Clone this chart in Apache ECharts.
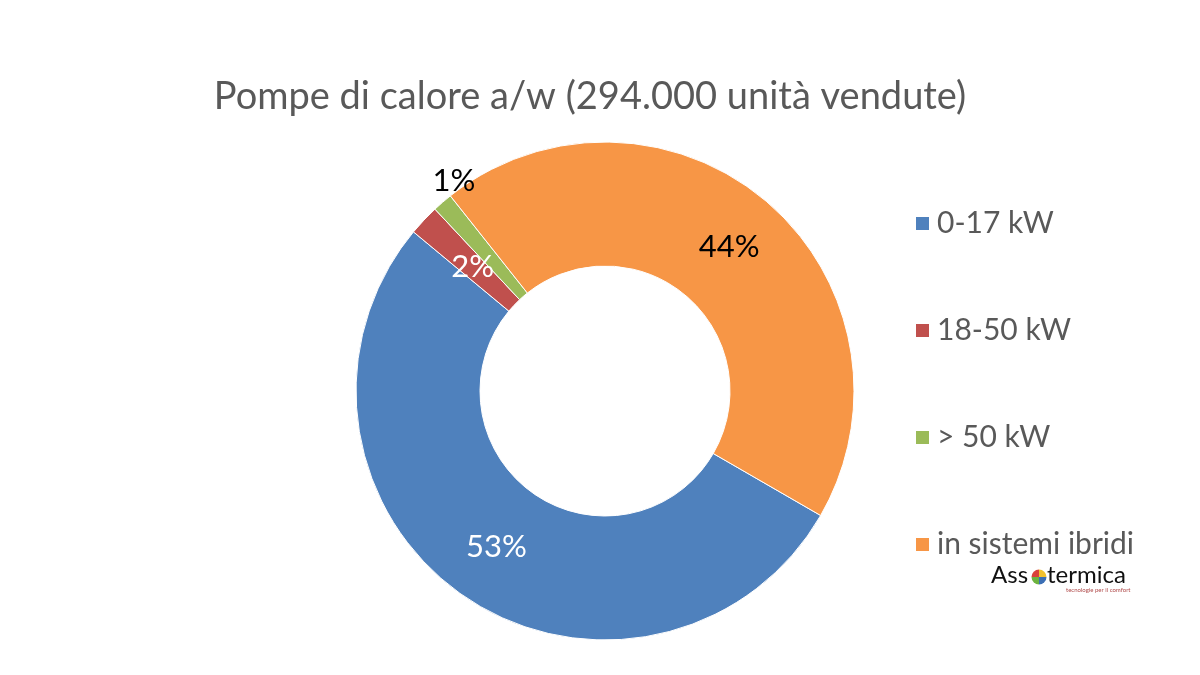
<!DOCTYPE html>
<html>
<head>
<meta charset="utf-8">
<script src="https://cdn.jsdelivr.net/npm/echarts@6/dist/echarts.min.js"></script>
<style>
html,body{margin:0;padding:0;background:#fff;}
#chart{width:1200px;height:675px;}
</style>
</head>
<body>
<div id="chart"></div>
<script>
const titleText = 'Pompe di calore a/w (294.000 unità vendute)';
const categories = ['0-17 kW', '18-50 kW', '> 50 kW', 'in sistemi ibridi'];
const shares = [52.7, 2.0, 1.3, 44.0];
const colors = ['#4F81BD', '#C0504D', '#9BBB59', '#F79646'];
const labelColors = ['#ffffff', '#ffffff', '#000000', '#000000'];

const FONT = 'Lato, "Open Sans", sans-serif';
const chart = echarts.init(document.getElementById('chart'));

const data = categories.map((c, i) => {
  const d = {
    name: c,
    value: shares[i],
    itemStyle: { color: colors[i] },
    label: { color: labelColors[i] }
  };
  if (i === 1) {
    d.label.offset = [6, 6];
  }
  if (i === 2) {
    d.label.offset = [-27, -66];
  }
  return d;
});

chart.setOption({
  backgroundColor: '#ffffff',
  animation: false,
  title: {
    text: titleText,
    left: 585,
    textAlign: 'center',
    top: 73,
    textStyle: { fontFamily: FONT, fontSize: 38, fontWeight: 'normal', color: '#595959' }
  },
  legend: {
    orient: 'vertical',
    left: 909,
    top: 202,
    itemWidth: 15,
    itemHeight: 15,
    itemGap: 74,
    icon: 'rect',
    data: categories,
    textStyle: { fontFamily: FONT, fontSize: 30, color: '#595959', lineHeight: 33, padding: [0, 0, 0, 2] }
  },
  series: [{
    type: 'pie',
    center: [605, 391],
    radius: [125, 249],
    startAngle: -30,
    clockwise: true,
    percentPrecision: 0,
    avoidLabelOverlap: false,
    itemStyle: { borderColor: '#ffffff', borderWidth: 1 },
    label: {
      show: true,
      position: 'inside',
      formatter: '{d}%',
      fontFamily: FONT,
      fontSize: 31
    },
    labelLine: { show: false },
    emphasis: { disabled: true },
    data: data
  }],
  graphic: [
    { type: 'text', left: 991, top: 563, style: { text: 'Ass', font: '24px ' + FONT, fill: '#111111' } },
    { type: 'sector', shape: { cx: 1039, cy: 577, r: 7.5, r0: 0, startAngle: Math.PI, endAngle: Math.PI * 1.5 }, style: { fill: '#D9413A' } },
    { type: 'sector', shape: { cx: 1039, cy: 577, r: 7.5, r0: 0, startAngle: Math.PI * 1.5, endAngle: Math.PI * 2 }, style: { fill: '#F2C12E' } },
    { type: 'sector', shape: { cx: 1039, cy: 577, r: 7.5, r0: 0, startAngle: 0, endAngle: Math.PI * 0.5 }, style: { fill: '#3C6FB5' } },
    { type: 'sector', shape: { cx: 1039, cy: 577, r: 7.5, r0: 0, startAngle: Math.PI * 0.5, endAngle: Math.PI }, style: { fill: '#6DB33F' } },
    { type: 'text', left: 1047, top: 563, style: { text: 'termica', font: '24px ' + FONT, fill: '#111111' } },
    { type: 'text', left: 1066, top: 587, style: { text: 'tecnologie per il comfort', font: '6px ' + FONT, fill: '#B04A4A' } }
  ]
});
</script>
</body>
</html>
